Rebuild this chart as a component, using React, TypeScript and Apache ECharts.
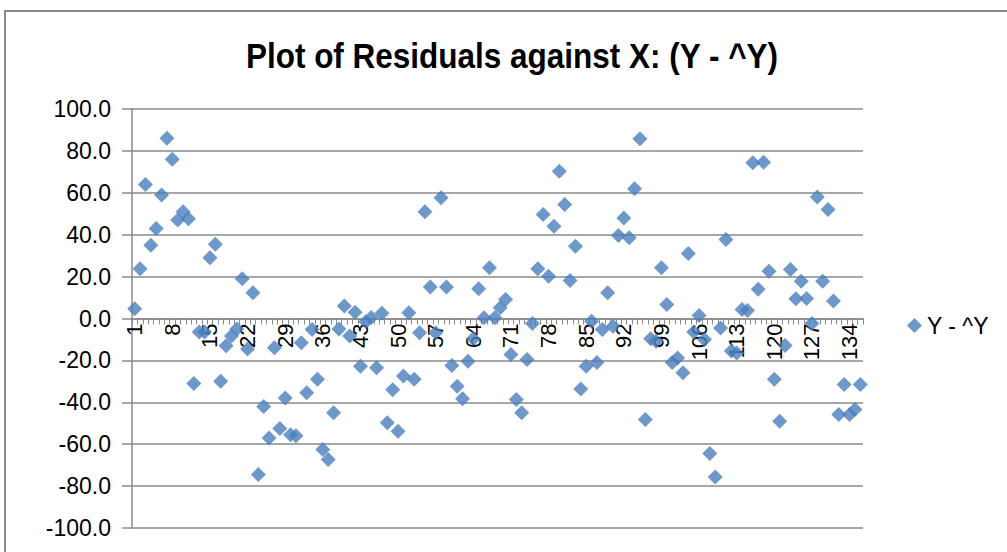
import React, { useEffect, useRef } from "react";
import * as echarts from "echarts";

const titleText = "Plot of Residuals against X: (Y - ^Y)";
const seriesName = "Y - ^Y";

const categories: string[] = Array.from({ length: 136 }, (_, i) => String(i + 1));

const residuals: number[] = [
  4.6, 23.7, 64, 35, 43, 59, 86, 76, 47, 51,
  47.6, -31, -6.5, -6.5, 29, 35.5, -30, -13, -8.4, -5,
  19, -14.5, 12.3, -74.5, -42, -57, -14, -52.5, -38, -55.5,
  -56, -11.6, -35.5, -5.2, -29, -62.5, -67.3, -45, -5, 6,
  -8.4, 3, -22.8, -1.5, 0.5, -23.5, 2.5, -49.8, -34, -53.8,
  -27.5, 2.7, -29, -6.8, 51, 15, -6.8, 57.6, 15, -22.4,
  -32.3, -38.3, -20.4, -9.7, 14.2, 0.3, 24.2, 0.3, 5.1, 9.1,
  -17.2, -38.7, -45, -19.6, -2.4, 23.7, 49.6, 20.2, 44, 70.3,
  54.4, 18.1, 34.5, -33.6, -22.8, -1.3, -21, -5.2, 12.3, -3.7,
  39.6, 48, 38.5, 61.9, 85.8, -48.2, -9.7, -10.8, 24.2, 6.7,
  -21, -18.8, -25.9, 31, -6.5, 1.4, -10, -64.4, -75.6, -4.5,
  37.7, -15.5, -16.5, 4.3, 3.8, 74.3, 14, 74.6, 22.6, -29,
  -49, -12.9, 23.4, 9.4, 17.8, 9.5, -2.4, 58, 17.8, 52,
  8.3, -45.8, -31.5, -45.8, -43.4, -31.5,
];

const yMin = -100;
const yMax = 100;
const yStep = 20;

const GRID_TOP = 109;
const GRID_BOTTOM = 24;
const CHART_H = 552;

export default function App() {
  const ref = useRef<HTMLDivElement>(null);

  useEffect(() => {
    if (!ref.current) return;
    const chart = echarts.init(ref.current, undefined, { renderer: "svg" });
    const gray = "#8a8a8a";
    const font = "'Liberation Sans', Arial, sans-serif";
    // move the category axis (line, ticks, labels) up to the value 0 line
    const plotBottom = CHART_H - GRID_BOTTOM;
    const zeroY = GRID_TOP + ((yMax - 0) / (yMax - yMin)) * (plotBottom - GRID_TOP);
    const xOffset = -(plotBottom - zeroY);
    chart.setOption({
      animation: false,
      backgroundColor: "#ffffff",
      textStyle: { fontFamily: font },
      grid: {
        left: 132,
        right: 144,
        top: GRID_TOP,
        bottom: GRID_BOTTOM,
        containLabel: false,
        outerBoundsMode: "none",
      },
      graphic: [
        {
          type: "rect",
          shape: { x: 5, y: 11, width: 1100, height: 700 },
          style: { fill: "none", stroke: gray, lineWidth: 2 },
          silent: true,
          z: -10,
        },
        {
          type: "text",
          x: 512,
          y: 56,
          scaleX: 0.9,
          style: {
            text: titleText,
            fontFamily: font,
            fontWeight: "bold",
            fontSize: 35,
            fill: "#000",
            textAlign: "center",
            textVerticalAlign: "middle",
          },
        },
      ],
      legend: {
        show: true,
        data: [{ name: seriesName, icon: "diamond" }],
        left: 902,
        top: 309,
        itemWidth: 15,
        itemHeight: 15,
        itemGap: 6,
        textStyle: { fontSize: 23, color: "#000", fontFamily: font },
      },
      xAxis: {
        type: "category",
        data: categories,
        boundaryGap: true,
        offset: xOffset,
        z: 0,
        axisLine: { show: true, onZero: false, lineStyle: { color: gray, width: 1.5 } },
        axisTick: { show: true, interval: 0, length: 6, lineStyle: { color: gray, width: 1 } },
        axisLabel: {
          interval: 6,
          rotate: 90,
          fontSize: 22,
          color: "#000",
          margin: 5,
          fontFamily: font,
        },
        splitLine: { show: false },
      },
      yAxis: {
        type: "value",
        min: yMin,
        max: yMax,
        interval: yStep,
        z: 0,
        axisLine: { show: true, lineStyle: { color: gray, width: 1.5 } },
        axisTick: { show: true, length: 10, lineStyle: { color: gray, width: 1.5 } },
        axisLabel: {
          fontSize: 23,
          color: "#000",
          margin: 21,
          fontFamily: font,
          formatter: (v: number) => v.toFixed(1),
        },
        splitLine: { show: true, lineStyle: { color: gray, width: 1.5 } },
      },
      series: [
        {
          name: seriesName,
          type: "scatter",
          symbol: "diamond",
          symbolSize: 15,
          z: 10,
          data: residuals,
          itemStyle: { color: "#4A7EBB" },
        },
      ],
    });
    return () => chart.dispose();
  }, []);

  return (
    <div
      ref={ref}
      style={{ position: "fixed", left: 0, top: 0, width: 1007, height: CHART_H, background: "#fff" }}
    />
  );
}
